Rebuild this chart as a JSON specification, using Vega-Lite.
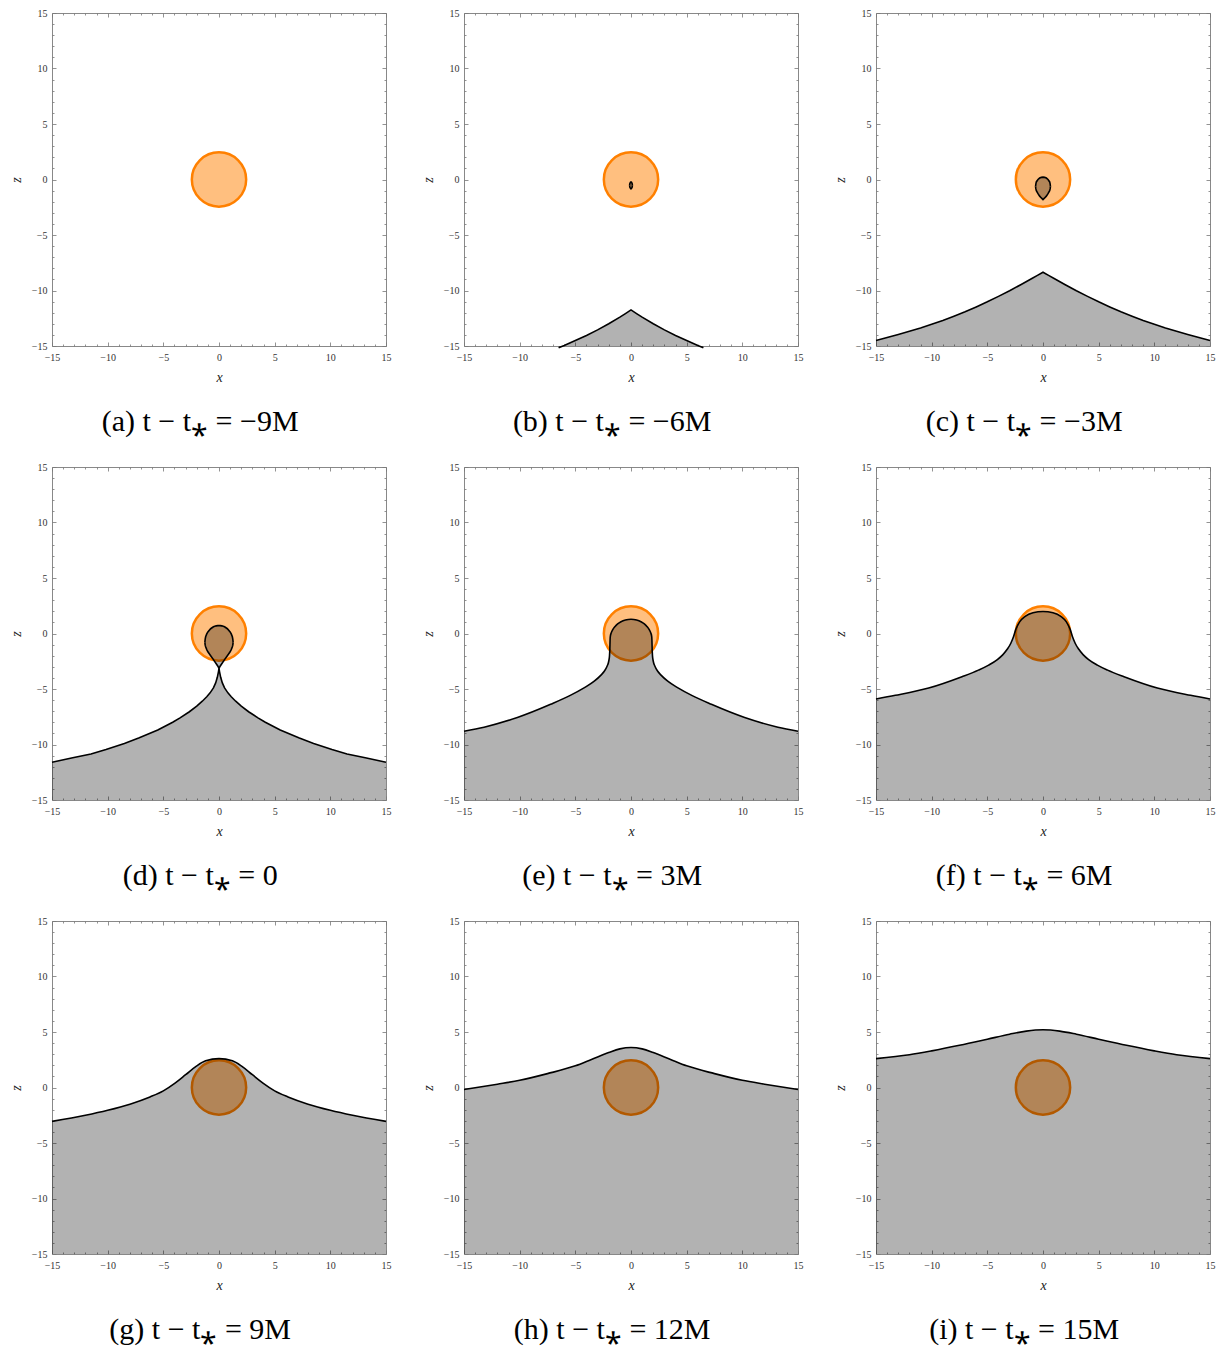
{
"$schema": "https://vega.github.io/schema/vega-lite/v6.json",
"background": "white",
"padding": {"left": 8, "top": 7, "right": 5, "bottom": 5},
"columns": 3,
"spacing": {"row": 121, "column": 78},
"bounds": "flush",
"config": {
  "view": {"stroke": "#888", "strokeWidth": 1},
  "axis": {"domain": false, "grid": false, "tickColor": "#777", "tickWidth": 0.8, "labelFont": "Liberation Serif", "labelFontSize": 10, "labelColor": "#333", "titleFont": "Liberation Serif", "titleFontSize": 14, "titleFontWeight": "normal", "titleFontStyle": "italic", "titleColor": "#222"},
  "title": {"orient": "bottom", "frame": "bounds", "font": "Liberation Serif", "fontSize": 30, "fontWeight": "normal", "offset": 23, "anchor": "middle", "color": "black"},
  "line": {"stroke": "black", "strokeWidth": 1.6, "clip": true},
  "area": {"fill": "black", "fillOpacity": 0.3, "clip": true}
},
"datasets": {
  "disk": [{"p":"a","x":0,"z":0},{"p":"b","x":0,"z":0},{"p":"c","x":0,"z":0},{"p":"d","x":0,"z":0},{"p":"e","x":0,"z":0},{"p":"f","x":0,"z":0},{"p":"g","x":0,"z":0},{"p":"h","x":0,"z":0},{"p":"i","x":0,"z":0}],
  "main": [
    {"p":"b","x":-6.5,"z":-15.15},{"p":"b","x":-6,"z":-14.95},{"p":"b","x":-5,"z":-14.5},{"p":"b","x":-4,"z":-14.05},{"p":"b","x":-3,"z":-13.55},{"p":"b","x":-2,"z":-13.0},{"p":"b","x":-1,"z":-12.4},{"p":"b","x":-0.5,"z":-12.08},{"p":"b","x":0,"z":-11.75},{"p":"b","x":0.5,"z":-12.08},{"p":"b","x":1,"z":-12.4},{"p":"b","x":2,"z":-13.0},{"p":"b","x":3,"z":-13.55},{"p":"b","x":4,"z":-14.05},{"p":"b","x":5,"z":-14.5},{"p":"b","x":6,"z":-14.95},{"p":"b","x":6.5,"z":-15.15},
    {"p":"c","x":-15,"z":-14.5},{"p":"c","x":-14,"z":-14.24},{"p":"c","x":-13,"z":-13.97},{"p":"c","x":-12,"z":-13.68},{"p":"c","x":-11,"z":-13.38},{"p":"c","x":-10,"z":-13.05},{"p":"c","x":-9,"z":-12.7},{"p":"c","x":-8,"z":-12.32},{"p":"c","x":-7,"z":-11.92},{"p":"c","x":-6,"z":-11.48},{"p":"c","x":-5,"z":-11.02},{"p":"c","x":-4,"z":-10.53},{"p":"c","x":-3,"z":-10.02},{"p":"c","x":-2,"z":-9.48},{"p":"c","x":-1,"z":-8.92},{"p":"c","x":-0.5,"z":-8.64},{"p":"c","x":0,"z":-8.35},{"p":"c","x":0.5,"z":-8.64},{"p":"c","x":1,"z":-8.92},{"p":"c","x":2,"z":-9.48},{"p":"c","x":3,"z":-10.02},{"p":"c","x":4,"z":-10.53},{"p":"c","x":5,"z":-11.02},{"p":"c","x":6,"z":-11.48},{"p":"c","x":7,"z":-11.92},{"p":"c","x":8,"z":-12.32},{"p":"c","x":9,"z":-12.7},{"p":"c","x":10,"z":-13.05},{"p":"c","x":11,"z":-13.38},{"p":"c","x":12,"z":-13.68},{"p":"c","x":13,"z":-13.97},{"p":"c","x":14,"z":-14.24},{"p":"c","x":15,"z":-14.5},
    {"p":"d","x":-15,"z":-11.6},{"p":"d","x":-13.14,"z":-11.2},{"p":"d","x":-11.5,"z":-10.85},{"p":"d","x":-10.15,"z":-10.45},{"p":"d","x":-8.5,"z":-9.9},{"p":"d","x":-7.16,"z":-9.4},{"p":"d","x":-5.5,"z":-8.7},{"p":"d","x":-4.16,"z":-8.0},{"p":"d","x":-3.5,"z":-7.6},{"p":"d","x":-2.66,"z":-7.05},{"p":"d","x":-2,"z":-6.55},{"p":"d","x":-1.5,"z":-6.1},{"p":"d","x":-1.1,"z":-5.7},{"p":"d","x":-0.8,"z":-5.35},{"p":"d","x":-0.5,"z":-4.9},{"p":"d","x":-0.3,"z":-4.45},{"p":"d","x":-0.15,"z":-3.95},{"p":"d","x":-0.05,"z":-3.45},{"p":"d","x":0,"z":-3.15},{"p":"d","x":0.05,"z":-3.45},{"p":"d","x":0.15,"z":-3.95},{"p":"d","x":0.3,"z":-4.45},{"p":"d","x":0.5,"z":-4.9},{"p":"d","x":0.8,"z":-5.35},{"p":"d","x":1.1,"z":-5.7},{"p":"d","x":1.5,"z":-6.1},{"p":"d","x":2,"z":-6.55},{"p":"d","x":2.66,"z":-7.05},{"p":"d","x":3.5,"z":-7.6},{"p":"d","x":4.16,"z":-8.0},{"p":"d","x":5.5,"z":-8.7},{"p":"d","x":7.16,"z":-9.4},{"p":"d","x":8.5,"z":-9.9},{"p":"d","x":10.15,"z":-10.45},{"p":"d","x":11.5,"z":-10.85},{"p":"d","x":13.14,"z":-11.2},{"p":"d","x":15,"z":-11.6},
    {"p":"e","x":-15,"z":-8.8},{"p":"e","x":-13.2,"z":-8.44},{"p":"e","x":-10.21,"z":-7.57},{"p":"e","x":-7.22,"z":-6.38},{"p":"e","x":-5.5,"z":-5.6},{"p":"e","x":-4.22,"z":-4.9},{"p":"e","x":-3.3,"z":-4.3},{"p":"e","x":-2.7,"z":-3.75},{"p":"e","x":-2.4,"z":-3.4},{"p":"e","x":-2.15,"z":-2.95},{"p":"e","x":-2.0,"z":-2.5},{"p":"e","x":-1.93,"z":-2.0},{"p":"e","x":-1.9,"z":-1.4},{"p":"e","x":-1.88,"z":-0.6},{"p":"e","x":-1.85,"z":-0.21},{"p":"e","x":-1.78,"z":0.04},{"p":"e","x":-1.65,"z":0.32},{"p":"e","x":-1.45,"z":0.61},{"p":"e","x":-1.2,"z":0.86},{"p":"e","x":-0.9,"z":1.06},{"p":"e","x":-0.5,"z":1.22},{"p":"e","x":0,"z":1.29},{"p":"e","x":0.5,"z":1.22},{"p":"e","x":0.9,"z":1.06},{"p":"e","x":1.2,"z":0.86},{"p":"e","x":1.45,"z":0.61},{"p":"e","x":1.65,"z":0.32},{"p":"e","x":1.78,"z":0.04},{"p":"e","x":1.85,"z":-0.21},{"p":"e","x":1.88,"z":-0.6},{"p":"e","x":1.9,"z":-1.4},{"p":"e","x":1.93,"z":-2.0},{"p":"e","x":2.0,"z":-2.5},{"p":"e","x":2.15,"z":-2.95},{"p":"e","x":2.4,"z":-3.4},{"p":"e","x":2.7,"z":-3.75},{"p":"e","x":3.3,"z":-4.3},{"p":"e","x":4.22,"z":-4.9},{"p":"e","x":5.5,"z":-5.6},{"p":"e","x":7.22,"z":-6.38},{"p":"e","x":10.21,"z":-7.57},{"p":"e","x":13.2,"z":-8.44},{"p":"e","x":15,"z":-8.8},
    {"p":"f","x":-15,"z":-5.9},{"p":"f","x":-13.26,"z":-5.57},{"p":"f","x":-10.27,"z":-4.91},{"p":"f","x":-7.28,"z":-3.89},{"p":"f","x":-5.8,"z":-3.3},{"p":"f","x":-4.88,"z":-2.85},{"p":"f","x":-4.1,"z":-2.35},{"p":"f","x":-3.6,"z":-1.9},{"p":"f","x":-3.2,"z":-1.4},{"p":"f","x":-2.9,"z":-0.9},{"p":"f","x":-2.65,"z":-0.3},{"p":"f","x":-2.45,"z":0.35},{"p":"f","x":-2.1,"z":1.05},{"p":"f","x":-1.6,"z":1.55},{"p":"f","x":-0.9,"z":1.87},{"p":"f","x":0,"z":1.98},{"p":"f","x":0.9,"z":1.87},{"p":"f","x":1.6,"z":1.55},{"p":"f","x":2.1,"z":1.05},{"p":"f","x":2.45,"z":0.35},{"p":"f","x":2.65,"z":-0.3},{"p":"f","x":2.9,"z":-0.9},{"p":"f","x":3.2,"z":-1.4},{"p":"f","x":3.6,"z":-1.9},{"p":"f","x":4.1,"z":-2.35},{"p":"f","x":4.88,"z":-2.85},{"p":"f","x":5.8,"z":-3.3},{"p":"f","x":7.28,"z":-3.89},{"p":"f","x":10.27,"z":-4.91},{"p":"f","x":13.26,"z":-5.57},{"p":"f","x":15,"z":-5.9},
    {"p":"g","x":-15,"z":-3.05},{"p":"g","x":-12,"z":-2.5},{"p":"g","x":-10,"z":-2.05},{"p":"g","x":-8,"z":-1.5},{"p":"g","x":-6.2,"z":-0.85},{"p":"g","x":-5,"z":-0.3},{"p":"g","x":-3.95,"z":0.4},{"p":"g","x":-3,"z":1.15},{"p":"g","x":-2,"z":1.95},{"p":"g","x":-1.2,"z":2.4},{"p":"g","x":0,"z":2.6},{"p":"g","x":1.2,"z":2.4},{"p":"g","x":2,"z":1.95},{"p":"g","x":3,"z":1.15},{"p":"g","x":3.95,"z":0.4},{"p":"g","x":5,"z":-0.3},{"p":"g","x":6.2,"z":-0.85},{"p":"g","x":8,"z":-1.5},{"p":"g","x":10,"z":-2.05},{"p":"g","x":12,"z":-2.5},{"p":"g","x":15,"z":-3.05},
    {"p":"h","x":-15,"z":-0.18},{"p":"h","x":-12,"z":0.3},{"p":"h","x":-10,"z":0.65},{"p":"h","x":-7.5,"z":1.25},{"p":"h","x":-5,"z":1.95},{"p":"h","x":-3.5,"z":2.55},{"p":"h","x":-2,"z":3.15},{"p":"h","x":-1,"z":3.48},{"p":"h","x":0,"z":3.6},{"p":"h","x":1,"z":3.48},{"p":"h","x":2,"z":3.15},{"p":"h","x":3.5,"z":2.55},{"p":"h","x":5,"z":1.95},{"p":"h","x":7.5,"z":1.25},{"p":"h","x":10,"z":0.65},{"p":"h","x":12,"z":0.3},{"p":"h","x":15,"z":-0.18},
    {"p":"i","x":-15,"z":2.6},{"p":"i","x":-12,"z":2.95},{"p":"i","x":-10,"z":3.3},{"p":"i","x":-7.5,"z":3.8},{"p":"i","x":-5,"z":4.35},{"p":"i","x":-3,"z":4.8},{"p":"i","x":-1.5,"z":5.08},{"p":"i","x":0,"z":5.2},{"p":"i","x":1.5,"z":5.08},{"p":"i","x":3,"z":4.8},{"p":"i","x":5,"z":4.35},{"p":"i","x":7.5,"z":3.8},{"p":"i","x":10,"z":3.3},{"p":"i","x":12,"z":2.95},{"p":"i","x":15,"z":2.6}
  ],
  "blob": [
    {"p":"b","x":-0.13,"zt":-0.52,"zb":-0.52},{"p":"b","x":-0.1,"zt":-0.35,"zb":-0.7},{"p":"b","x":-0.05,"zt":-0.25,"zb":-0.8},{"p":"b","x":0,"zt":-0.22,"zb":-0.85},{"p":"b","x":0.05,"zt":-0.25,"zb":-0.8},{"p":"b","x":0.1,"zt":-0.35,"zb":-0.7},{"p":"b","x":0.13,"zt":-0.52,"zb":-0.52},
    {"p":"c","x":-0.67,"zt":-0.63,"zb":-0.63},{"p":"c","x":-0.64,"zt":-0.4,"zb":-0.85},{"p":"c","x":-0.6,"zt":-0.22,"zb":-1.0},{"p":"c","x":-0.45,"zt":0.0,"zb":-1.28},{"p":"c","x":-0.3,"zt":0.13,"zb":-1.5},{"p":"c","x":-0.15,"zt":0.19,"zb":-1.66},{"p":"c","x":0,"zt":0.21,"zb":-1.81},{"p":"c","x":0.15,"zt":0.19,"zb":-1.66},{"p":"c","x":0.3,"zt":0.13,"zb":-1.5},{"p":"c","x":0.45,"zt":0.0,"zb":-1.28},{"p":"c","x":0.6,"zt":-0.22,"zb":-1.0},{"p":"c","x":0.64,"zt":-0.4,"zb":-0.85},{"p":"c","x":0.67,"zt":-0.63,"zb":-0.63},
    {"p":"d","x":-1.27,"zt":-0.8,"zb":-0.8},{"p":"d","x":-1.24,"zt":-0.5,"zb":-1.05},{"p":"d","x":-1.2,"zt":-0.3,"zb":-1.2},{"p":"d","x":-1.1,"zt":-0.04,"zb":-1.45},{"p":"d","x":-1.0,"zt":0.14,"zb":-1.65},{"p":"d","x":-0.75,"zt":0.43,"zb":-2.0},{"p":"d","x":-0.5,"zt":0.6,"zb":-2.35},{"p":"d","x":-0.25,"zt":0.69,"zb":-2.72},{"p":"d","x":-0.1,"zt":0.71,"zb":-2.95},{"p":"d","x":0,"zt":0.72,"zb":-3.15},{"p":"d","x":0.1,"zt":0.71,"zb":-2.95},{"p":"d","x":0.25,"zt":0.69,"zb":-2.72},{"p":"d","x":0.5,"zt":0.6,"zb":-2.35},{"p":"d","x":0.75,"zt":0.43,"zb":-2.0},{"p":"d","x":1.0,"zt":0.14,"zb":-1.65},{"p":"d","x":1.1,"zt":-0.04,"zb":-1.45},{"p":"d","x":1.2,"zt":-0.3,"zb":-1.2},{"p":"d","x":1.24,"zt":-0.5,"zb":-1.05},{"p":"d","x":1.27,"zt":-0.8,"zb":-0.8}
  ]
},
"concat": [
  {"title": "(a) t − t⁎ = −9M", "width": 334, "height": 333, "resolve": {"axis": {"x": "independent", "y": "independent"}}, "layer": [
    {"data": {"name": "disk"}, "transform": [{"filter": "datum.p == 'a'"}], "mark": {"type": "point", "shape": "circle", "size": 2950, "filled": true, "fill": "#ff8000", "fillOpacity": 0.5, "stroke": "#ff8000", "strokeWidth": 2.5, "opacity": 1},
     "encoding": {"x": {"field": "x", "type": "quantitative", "scale": {"domain": [-15, 15], "nice": false}, "axis": {"orient": "bottom", "values": [-15,-10,-5,0,5,10,15], "tickSize": -4, "labelPadding": 10, "labelFlush": false, "title": "x", "titlePadding": 8}},
                  "y": {"field": "z", "type": "quantitative", "scale": {"domain": [-15, 15], "nice": false}, "axis": {"orient": "left", "values": [-15,-10,-5,0,5,10,15], "tickSize": -4, "labelPadding": 9, "labelFlush": false, "title": "z", "titlePadding": 8}}}},
    {"data": {"name": "main"}, "transform": [{"filter": "datum.p == 'a'"}], "mark": {"type": "area"},
     "encoding": {"x": {"field": "x", "type": "quantitative", "scale": {"domain": [-15, 15], "nice": false}, "axis": {"orient": "top", "values": [-15,-10,-5,0,5,10,15], "tickSize": -4, "labels": false, "title": null}},
                  "y": {"field": "z", "type": "quantitative", "scale": {"domain": [-15, 15], "nice": false}, "axis": {"orient": "right", "values": [-15,-10,-5,0,5,10,15], "tickSize": -4, "labels": false, "title": null}},
                  "y2": {"datum": -15}}},
    {"data": {"name": "main"}, "transform": [{"filter": "datum.p == 'a'"}], "mark": {"type": "line"},
     "encoding": {"x": {"field": "x", "type": "quantitative", "scale": {"domain": [-15, 15], "nice": false}, "axis": {"orient": "bottom", "values": [-14,-13,-12,-11,-9,-8,-7,-6,-4,-3,-2,-1,1,2,3,4,6,7,8,9,11,12,13,14], "tickSize": -2, "labels": false, "title": null}},
                  "y": {"field": "z", "type": "quantitative", "scale": {"domain": [-15, 15], "nice": false}, "axis": {"orient": "left", "values": [-14,-13,-12,-11,-9,-8,-7,-6,-4,-3,-2,-1,1,2,3,4,6,7,8,9,11,12,13,14], "tickSize": -2, "labels": false, "title": null}}}},
    {"data": {"name": "blob"}, "transform": [{"filter": "datum.p == 'a'"}], "mark": {"type": "area"},
     "encoding": {"x": {"field": "x", "type": "quantitative", "scale": {"domain": [-15, 15], "nice": false}, "axis": {"orient": "top", "values": [-14,-13,-12,-11,-9,-8,-7,-6,-4,-3,-2,-1,1,2,3,4,6,7,8,9,11,12,13,14], "tickSize": -2, "labels": false, "title": null}},
                  "y": {"field": "zt", "type": "quantitative", "scale": {"domain": [-15, 15], "nice": false}, "axis": {"orient": "right", "values": [-14,-13,-12,-11,-9,-8,-7,-6,-4,-3,-2,-1,1,2,3,4,6,7,8,9,11,12,13,14], "tickSize": -2, "labels": false, "title": null}},
                  "y2": {"field": "zb"}}}
  ]},
  {"title": "(b) t − t⁎ = −6M", "width": 334, "height": 333, "resolve": {"axis": {"x": "independent", "y": "independent"}}, "layer": [
    {"data": {"name": "disk"}, "transform": [{"filter": "datum.p == 'b'"}], "mark": {"type": "point", "shape": "circle", "size": 2950, "filled": true, "fill": "#ff8000", "fillOpacity": 0.5, "stroke": "#ff8000", "strokeWidth": 2.5, "opacity": 1},
     "encoding": {"x": {"field": "x", "type": "quantitative", "scale": {"domain": [-15, 15], "nice": false}, "axis": {"orient": "bottom", "values": [-15,-10,-5,0,5,10,15], "tickSize": -4, "labelPadding": 10, "labelFlush": false, "title": "x", "titlePadding": 8}},
                  "y": {"field": "z", "type": "quantitative", "scale": {"domain": [-15, 15], "nice": false}, "axis": {"orient": "left", "values": [-15,-10,-5,0,5,10,15], "tickSize": -4, "labelPadding": 9, "labelFlush": false, "title": "z", "titlePadding": 8}}}},
    {"data": {"name": "main"}, "transform": [{"filter": "datum.p == 'b'"}], "mark": {"type": "area"},
     "encoding": {"x": {"field": "x", "type": "quantitative", "scale": {"domain": [-15, 15], "nice": false}, "axis": {"orient": "top", "values": [-15,-10,-5,0,5,10,15], "tickSize": -4, "labels": false, "title": null}},
                  "y": {"field": "z", "type": "quantitative", "scale": {"domain": [-15, 15], "nice": false}, "axis": {"orient": "right", "values": [-15,-10,-5,0,5,10,15], "tickSize": -4, "labels": false, "title": null}},
                  "y2": {"datum": -15}}},
    {"data": {"name": "main"}, "transform": [{"filter": "datum.p == 'b'"}], "mark": {"type": "line"},
     "encoding": {"x": {"field": "x", "type": "quantitative", "scale": {"domain": [-15, 15], "nice": false}, "axis": {"orient": "bottom", "values": [-14,-13,-12,-11,-9,-8,-7,-6,-4,-3,-2,-1,1,2,3,4,6,7,8,9,11,12,13,14], "tickSize": -2, "labels": false, "title": null}},
                  "y": {"field": "z", "type": "quantitative", "scale": {"domain": [-15, 15], "nice": false}, "axis": {"orient": "left", "values": [-14,-13,-12,-11,-9,-8,-7,-6,-4,-3,-2,-1,1,2,3,4,6,7,8,9,11,12,13,14], "tickSize": -2, "labels": false, "title": null}}}},
    {"data": {"name": "blob"}, "transform": [{"filter": "datum.p == 'b'"}], "mark": {"type": "area"},
     "encoding": {"x": {"field": "x", "type": "quantitative", "scale": {"domain": [-15, 15], "nice": false}, "axis": {"orient": "top", "values": [-14,-13,-12,-11,-9,-8,-7,-6,-4,-3,-2,-1,1,2,3,4,6,7,8,9,11,12,13,14], "tickSize": -2, "labels": false, "title": null}},
                  "y": {"field": "zt", "type": "quantitative", "scale": {"domain": [-15, 15], "nice": false}, "axis": {"orient": "right", "values": [-14,-13,-12,-11,-9,-8,-7,-6,-4,-3,-2,-1,1,2,3,4,6,7,8,9,11,12,13,14], "tickSize": -2, "labels": false, "title": null}},
                  "y2": {"field": "zb"}}},
    {"data": {"name": "blob"}, "transform": [{"filter": "datum.p == 'b'"}], "mark": {"type": "line"},
     "encoding": {"x": {"field": "x", "type": "quantitative", "scale": {"domain": [-15, 15], "nice": false}, "axis": null},
                  "y": {"field": "zt", "type": "quantitative", "scale": {"domain": [-15, 15], "nice": false}, "axis": null}}},
    {"data": {"name": "blob"}, "transform": [{"filter": "datum.p == 'b'"}], "mark": {"type": "line"},
     "encoding": {"x": {"field": "x", "type": "quantitative", "scale": {"domain": [-15, 15], "nice": false}, "axis": null},
                  "y": {"field": "zb", "type": "quantitative", "scale": {"domain": [-15, 15], "nice": false}, "axis": null}}}
  ]},
  {"title": "(c) t − t⁎ = −3M", "width": 334, "height": 333, "resolve": {"axis": {"x": "independent", "y": "independent"}}, "layer": [
    {"data": {"name": "disk"}, "transform": [{"filter": "datum.p == 'c'"}], "mark": {"type": "point", "shape": "circle", "size": 2950, "filled": true, "fill": "#ff8000", "fillOpacity": 0.5, "stroke": "#ff8000", "strokeWidth": 2.5, "opacity": 1},
     "encoding": {"x": {"field": "x", "type": "quantitative", "scale": {"domain": [-15, 15], "nice": false}, "axis": {"orient": "bottom", "values": [-15,-10,-5,0,5,10,15], "tickSize": -4, "labelPadding": 10, "labelFlush": false, "title": "x", "titlePadding": 8}},
                  "y": {"field": "z", "type": "quantitative", "scale": {"domain": [-15, 15], "nice": false}, "axis": {"orient": "left", "values": [-15,-10,-5,0,5,10,15], "tickSize": -4, "labelPadding": 9, "labelFlush": false, "title": "z", "titlePadding": 8}}}},
    {"data": {"name": "main"}, "transform": [{"filter": "datum.p == 'c'"}], "mark": {"type": "area"},
     "encoding": {"x": {"field": "x", "type": "quantitative", "scale": {"domain": [-15, 15], "nice": false}, "axis": {"orient": "top", "values": [-15,-10,-5,0,5,10,15], "tickSize": -4, "labels": false, "title": null}},
                  "y": {"field": "z", "type": "quantitative", "scale": {"domain": [-15, 15], "nice": false}, "axis": {"orient": "right", "values": [-15,-10,-5,0,5,10,15], "tickSize": -4, "labels": false, "title": null}},
                  "y2": {"datum": -15}}},
    {"data": {"name": "main"}, "transform": [{"filter": "datum.p == 'c'"}], "mark": {"type": "line"},
     "encoding": {"x": {"field": "x", "type": "quantitative", "scale": {"domain": [-15, 15], "nice": false}, "axis": {"orient": "bottom", "values": [-14,-13,-12,-11,-9,-8,-7,-6,-4,-3,-2,-1,1,2,3,4,6,7,8,9,11,12,13,14], "tickSize": -2, "labels": false, "title": null}},
                  "y": {"field": "z", "type": "quantitative", "scale": {"domain": [-15, 15], "nice": false}, "axis": {"orient": "left", "values": [-14,-13,-12,-11,-9,-8,-7,-6,-4,-3,-2,-1,1,2,3,4,6,7,8,9,11,12,13,14], "tickSize": -2, "labels": false, "title": null}}}},
    {"data": {"name": "blob"}, "transform": [{"filter": "datum.p == 'c'"}], "mark": {"type": "area"},
     "encoding": {"x": {"field": "x", "type": "quantitative", "scale": {"domain": [-15, 15], "nice": false}, "axis": {"orient": "top", "values": [-14,-13,-12,-11,-9,-8,-7,-6,-4,-3,-2,-1,1,2,3,4,6,7,8,9,11,12,13,14], "tickSize": -2, "labels": false, "title": null}},
                  "y": {"field": "zt", "type": "quantitative", "scale": {"domain": [-15, 15], "nice": false}, "axis": {"orient": "right", "values": [-14,-13,-12,-11,-9,-8,-7,-6,-4,-3,-2,-1,1,2,3,4,6,7,8,9,11,12,13,14], "tickSize": -2, "labels": false, "title": null}},
                  "y2": {"field": "zb"}}},
    {"data": {"name": "blob"}, "transform": [{"filter": "datum.p == 'c'"}], "mark": {"type": "line"},
     "encoding": {"x": {"field": "x", "type": "quantitative", "scale": {"domain": [-15, 15], "nice": false}, "axis": null},
                  "y": {"field": "zt", "type": "quantitative", "scale": {"domain": [-15, 15], "nice": false}, "axis": null}}},
    {"data": {"name": "blob"}, "transform": [{"filter": "datum.p == 'c'"}], "mark": {"type": "line"},
     "encoding": {"x": {"field": "x", "type": "quantitative", "scale": {"domain": [-15, 15], "nice": false}, "axis": null},
                  "y": {"field": "zb", "type": "quantitative", "scale": {"domain": [-15, 15], "nice": false}, "axis": null}}}
  ]},
  {"title": "(d) t − t⁎ = 0", "width": 334, "height": 333, "resolve": {"axis": {"x": "independent", "y": "independent"}}, "layer": [
    {"data": {"name": "disk"}, "transform": [{"filter": "datum.p == 'd'"}], "mark": {"type": "point", "shape": "circle", "size": 2950, "filled": true, "fill": "#ff8000", "fillOpacity": 0.5, "stroke": "#ff8000", "strokeWidth": 2.5, "opacity": 1},
     "encoding": {"x": {"field": "x", "type": "quantitative", "scale": {"domain": [-15, 15], "nice": false}, "axis": {"orient": "bottom", "values": [-15,-10,-5,0,5,10,15], "tickSize": -4, "labelPadding": 10, "labelFlush": false, "title": "x", "titlePadding": 8}},
                  "y": {"field": "z", "type": "quantitative", "scale": {"domain": [-15, 15], "nice": false}, "axis": {"orient": "left", "values": [-15,-10,-5,0,5,10,15], "tickSize": -4, "labelPadding": 9, "labelFlush": false, "title": "z", "titlePadding": 8}}}},
    {"data": {"name": "main"}, "transform": [{"filter": "datum.p == 'd'"}], "mark": {"type": "area"},
     "encoding": {"x": {"field": "x", "type": "quantitative", "scale": {"domain": [-15, 15], "nice": false}, "axis": {"orient": "top", "values": [-15,-10,-5,0,5,10,15], "tickSize": -4, "labels": false, "title": null}},
                  "y": {"field": "z", "type": "quantitative", "scale": {"domain": [-15, 15], "nice": false}, "axis": {"orient": "right", "values": [-15,-10,-5,0,5,10,15], "tickSize": -4, "labels": false, "title": null}},
                  "y2": {"datum": -15}}},
    {"data": {"name": "main"}, "transform": [{"filter": "datum.p == 'd'"}], "mark": {"type": "line"},
     "encoding": {"x": {"field": "x", "type": "quantitative", "scale": {"domain": [-15, 15], "nice": false}, "axis": {"orient": "bottom", "values": [-14,-13,-12,-11,-9,-8,-7,-6,-4,-3,-2,-1,1,2,3,4,6,7,8,9,11,12,13,14], "tickSize": -2, "labels": false, "title": null}},
                  "y": {"field": "z", "type": "quantitative", "scale": {"domain": [-15, 15], "nice": false}, "axis": {"orient": "left", "values": [-14,-13,-12,-11,-9,-8,-7,-6,-4,-3,-2,-1,1,2,3,4,6,7,8,9,11,12,13,14], "tickSize": -2, "labels": false, "title": null}}}},
    {"data": {"name": "blob"}, "transform": [{"filter": "datum.p == 'd'"}], "mark": {"type": "area"},
     "encoding": {"x": {"field": "x", "type": "quantitative", "scale": {"domain": [-15, 15], "nice": false}, "axis": {"orient": "top", "values": [-14,-13,-12,-11,-9,-8,-7,-6,-4,-3,-2,-1,1,2,3,4,6,7,8,9,11,12,13,14], "tickSize": -2, "labels": false, "title": null}},
                  "y": {"field": "zt", "type": "quantitative", "scale": {"domain": [-15, 15], "nice": false}, "axis": {"orient": "right", "values": [-14,-13,-12,-11,-9,-8,-7,-6,-4,-3,-2,-1,1,2,3,4,6,7,8,9,11,12,13,14], "tickSize": -2, "labels": false, "title": null}},
                  "y2": {"field": "zb"}}},
    {"data": {"name": "blob"}, "transform": [{"filter": "datum.p == 'd'"}], "mark": {"type": "line"},
     "encoding": {"x": {"field": "x", "type": "quantitative", "scale": {"domain": [-15, 15], "nice": false}, "axis": null},
                  "y": {"field": "zt", "type": "quantitative", "scale": {"domain": [-15, 15], "nice": false}, "axis": null}}},
    {"data": {"name": "blob"}, "transform": [{"filter": "datum.p == 'd'"}], "mark": {"type": "line"},
     "encoding": {"x": {"field": "x", "type": "quantitative", "scale": {"domain": [-15, 15], "nice": false}, "axis": null},
                  "y": {"field": "zb", "type": "quantitative", "scale": {"domain": [-15, 15], "nice": false}, "axis": null}}}
  ]},
  {"title": "(e) t − t⁎ = 3M", "width": 334, "height": 333, "resolve": {"axis": {"x": "independent", "y": "independent"}}, "layer": [
    {"data": {"name": "disk"}, "transform": [{"filter": "datum.p == 'e'"}], "mark": {"type": "point", "shape": "circle", "size": 2950, "filled": true, "fill": "#ff8000", "fillOpacity": 0.5, "stroke": "#ff8000", "strokeWidth": 2.5, "opacity": 1},
     "encoding": {"x": {"field": "x", "type": "quantitative", "scale": {"domain": [-15, 15], "nice": false}, "axis": {"orient": "bottom", "values": [-15,-10,-5,0,5,10,15], "tickSize": -4, "labelPadding": 10, "labelFlush": false, "title": "x", "titlePadding": 8}},
                  "y": {"field": "z", "type": "quantitative", "scale": {"domain": [-15, 15], "nice": false}, "axis": {"orient": "left", "values": [-15,-10,-5,0,5,10,15], "tickSize": -4, "labelPadding": 9, "labelFlush": false, "title": "z", "titlePadding": 8}}}},
    {"data": {"name": "main"}, "transform": [{"filter": "datum.p == 'e'"}], "mark": {"type": "area", "interpolate": "monotone"},
     "encoding": {"x": {"field": "x", "type": "quantitative", "scale": {"domain": [-15, 15], "nice": false}, "axis": {"orient": "top", "values": [-15,-10,-5,0,5,10,15], "tickSize": -4, "labels": false, "title": null}},
                  "y": {"field": "z", "type": "quantitative", "scale": {"domain": [-15, 15], "nice": false}, "axis": {"orient": "right", "values": [-15,-10,-5,0,5,10,15], "tickSize": -4, "labels": false, "title": null}},
                  "y2": {"datum": -15}}},
    {"data": {"name": "main"}, "transform": [{"filter": "datum.p == 'e'"}], "mark": {"type": "line", "interpolate": "monotone"},
     "encoding": {"x": {"field": "x", "type": "quantitative", "scale": {"domain": [-15, 15], "nice": false}, "axis": {"orient": "bottom", "values": [-14,-13,-12,-11,-9,-8,-7,-6,-4,-3,-2,-1,1,2,3,4,6,7,8,9,11,12,13,14], "tickSize": -2, "labels": false, "title": null}},
                  "y": {"field": "z", "type": "quantitative", "scale": {"domain": [-15, 15], "nice": false}, "axis": {"orient": "left", "values": [-14,-13,-12,-11,-9,-8,-7,-6,-4,-3,-2,-1,1,2,3,4,6,7,8,9,11,12,13,14], "tickSize": -2, "labels": false, "title": null}}}},
    {"data": {"name": "blob"}, "transform": [{"filter": "datum.p == 'e'"}], "mark": {"type": "area"},
     "encoding": {"x": {"field": "x", "type": "quantitative", "scale": {"domain": [-15, 15], "nice": false}, "axis": {"orient": "top", "values": [-14,-13,-12,-11,-9,-8,-7,-6,-4,-3,-2,-1,1,2,3,4,6,7,8,9,11,12,13,14], "tickSize": -2, "labels": false, "title": null}},
                  "y": {"field": "zt", "type": "quantitative", "scale": {"domain": [-15, 15], "nice": false}, "axis": {"orient": "right", "values": [-14,-13,-12,-11,-9,-8,-7,-6,-4,-3,-2,-1,1,2,3,4,6,7,8,9,11,12,13,14], "tickSize": -2, "labels": false, "title": null}},
                  "y2": {"field": "zb"}}}
  ]},
  {"title": "(f) t − t⁎ = 6M", "width": 334, "height": 333, "resolve": {"axis": {"x": "independent", "y": "independent"}}, "layer": [
    {"data": {"name": "disk"}, "transform": [{"filter": "datum.p == 'f'"}], "mark": {"type": "point", "shape": "circle", "size": 2950, "filled": true, "fill": "#ff8000", "fillOpacity": 0.5, "stroke": "#ff8000", "strokeWidth": 2.5, "opacity": 1},
     "encoding": {"x": {"field": "x", "type": "quantitative", "scale": {"domain": [-15, 15], "nice": false}, "axis": {"orient": "bottom", "values": [-15,-10,-5,0,5,10,15], "tickSize": -4, "labelPadding": 10, "labelFlush": false, "title": "x", "titlePadding": 8}},
                  "y": {"field": "z", "type": "quantitative", "scale": {"domain": [-15, 15], "nice": false}, "axis": {"orient": "left", "values": [-15,-10,-5,0,5,10,15], "tickSize": -4, "labelPadding": 9, "labelFlush": false, "title": "z", "titlePadding": 8}}}},
    {"data": {"name": "main"}, "transform": [{"filter": "datum.p == 'f'"}], "mark": {"type": "area", "interpolate": "monotone"},
     "encoding": {"x": {"field": "x", "type": "quantitative", "scale": {"domain": [-15, 15], "nice": false}, "axis": {"orient": "top", "values": [-15,-10,-5,0,5,10,15], "tickSize": -4, "labels": false, "title": null}},
                  "y": {"field": "z", "type": "quantitative", "scale": {"domain": [-15, 15], "nice": false}, "axis": {"orient": "right", "values": [-15,-10,-5,0,5,10,15], "tickSize": -4, "labels": false, "title": null}},
                  "y2": {"datum": -15}}},
    {"data": {"name": "main"}, "transform": [{"filter": "datum.p == 'f'"}], "mark": {"type": "line", "interpolate": "monotone"},
     "encoding": {"x": {"field": "x", "type": "quantitative", "scale": {"domain": [-15, 15], "nice": false}, "axis": {"orient": "bottom", "values": [-14,-13,-12,-11,-9,-8,-7,-6,-4,-3,-2,-1,1,2,3,4,6,7,8,9,11,12,13,14], "tickSize": -2, "labels": false, "title": null}},
                  "y": {"field": "z", "type": "quantitative", "scale": {"domain": [-15, 15], "nice": false}, "axis": {"orient": "left", "values": [-14,-13,-12,-11,-9,-8,-7,-6,-4,-3,-2,-1,1,2,3,4,6,7,8,9,11,12,13,14], "tickSize": -2, "labels": false, "title": null}}}},
    {"data": {"name": "blob"}, "transform": [{"filter": "datum.p == 'f'"}], "mark": {"type": "area"},
     "encoding": {"x": {"field": "x", "type": "quantitative", "scale": {"domain": [-15, 15], "nice": false}, "axis": {"orient": "top", "values": [-14,-13,-12,-11,-9,-8,-7,-6,-4,-3,-2,-1,1,2,3,4,6,7,8,9,11,12,13,14], "tickSize": -2, "labels": false, "title": null}},
                  "y": {"field": "zt", "type": "quantitative", "scale": {"domain": [-15, 15], "nice": false}, "axis": {"orient": "right", "values": [-14,-13,-12,-11,-9,-8,-7,-6,-4,-3,-2,-1,1,2,3,4,6,7,8,9,11,12,13,14], "tickSize": -2, "labels": false, "title": null}},
                  "y2": {"field": "zb"}}}
  ]},
  {"title": "(g) t − t⁎ = 9M", "width": 334, "height": 333, "resolve": {"axis": {"x": "independent", "y": "independent"}}, "layer": [
    {"data": {"name": "disk"}, "transform": [{"filter": "datum.p == 'g'"}], "mark": {"type": "point", "shape": "circle", "size": 2950, "filled": true, "fill": "#ff8000", "fillOpacity": 0.5, "stroke": "#ff8000", "strokeWidth": 2.5, "opacity": 1},
     "encoding": {"x": {"field": "x", "type": "quantitative", "scale": {"domain": [-15, 15], "nice": false}, "axis": {"orient": "bottom", "values": [-15,-10,-5,0,5,10,15], "tickSize": -4, "labelPadding": 10, "labelFlush": false, "title": "x", "titlePadding": 8}},
                  "y": {"field": "z", "type": "quantitative", "scale": {"domain": [-15, 15], "nice": false}, "axis": {"orient": "left", "values": [-15,-10,-5,0,5,10,15], "tickSize": -4, "labelPadding": 9, "labelFlush": false, "title": "z", "titlePadding": 8}}}},
    {"data": {"name": "main"}, "transform": [{"filter": "datum.p == 'g'"}], "mark": {"type": "area", "interpolate": "monotone"},
     "encoding": {"x": {"field": "x", "type": "quantitative", "scale": {"domain": [-15, 15], "nice": false}, "axis": {"orient": "top", "values": [-15,-10,-5,0,5,10,15], "tickSize": -4, "labels": false, "title": null}},
                  "y": {"field": "z", "type": "quantitative", "scale": {"domain": [-15, 15], "nice": false}, "axis": {"orient": "right", "values": [-15,-10,-5,0,5,10,15], "tickSize": -4, "labels": false, "title": null}},
                  "y2": {"datum": -15}}},
    {"data": {"name": "main"}, "transform": [{"filter": "datum.p == 'g'"}], "mark": {"type": "line", "interpolate": "monotone"},
     "encoding": {"x": {"field": "x", "type": "quantitative", "scale": {"domain": [-15, 15], "nice": false}, "axis": {"orient": "bottom", "values": [-14,-13,-12,-11,-9,-8,-7,-6,-4,-3,-2,-1,1,2,3,4,6,7,8,9,11,12,13,14], "tickSize": -2, "labels": false, "title": null}},
                  "y": {"field": "z", "type": "quantitative", "scale": {"domain": [-15, 15], "nice": false}, "axis": {"orient": "left", "values": [-14,-13,-12,-11,-9,-8,-7,-6,-4,-3,-2,-1,1,2,3,4,6,7,8,9,11,12,13,14], "tickSize": -2, "labels": false, "title": null}}}},
    {"data": {"name": "blob"}, "transform": [{"filter": "datum.p == 'g'"}], "mark": {"type": "area"},
     "encoding": {"x": {"field": "x", "type": "quantitative", "scale": {"domain": [-15, 15], "nice": false}, "axis": {"orient": "top", "values": [-14,-13,-12,-11,-9,-8,-7,-6,-4,-3,-2,-1,1,2,3,4,6,7,8,9,11,12,13,14], "tickSize": -2, "labels": false, "title": null}},
                  "y": {"field": "zt", "type": "quantitative", "scale": {"domain": [-15, 15], "nice": false}, "axis": {"orient": "right", "values": [-14,-13,-12,-11,-9,-8,-7,-6,-4,-3,-2,-1,1,2,3,4,6,7,8,9,11,12,13,14], "tickSize": -2, "labels": false, "title": null}},
                  "y2": {"field": "zb"}}}
  ]},
  {"title": "(h) t − t⁎ = 12M", "width": 334, "height": 333, "resolve": {"axis": {"x": "independent", "y": "independent"}}, "layer": [
    {"data": {"name": "disk"}, "transform": [{"filter": "datum.p == 'h'"}], "mark": {"type": "point", "shape": "circle", "size": 2950, "filled": true, "fill": "#ff8000", "fillOpacity": 0.5, "stroke": "#ff8000", "strokeWidth": 2.5, "opacity": 1},
     "encoding": {"x": {"field": "x", "type": "quantitative", "scale": {"domain": [-15, 15], "nice": false}, "axis": {"orient": "bottom", "values": [-15,-10,-5,0,5,10,15], "tickSize": -4, "labelPadding": 10, "labelFlush": false, "title": "x", "titlePadding": 8}},
                  "y": {"field": "z", "type": "quantitative", "scale": {"domain": [-15, 15], "nice": false}, "axis": {"orient": "left", "values": [-15,-10,-5,0,5,10,15], "tickSize": -4, "labelPadding": 9, "labelFlush": false, "title": "z", "titlePadding": 8}}}},
    {"data": {"name": "main"}, "transform": [{"filter": "datum.p == 'h'"}], "mark": {"type": "area", "interpolate": "monotone"},
     "encoding": {"x": {"field": "x", "type": "quantitative", "scale": {"domain": [-15, 15], "nice": false}, "axis": {"orient": "top", "values": [-15,-10,-5,0,5,10,15], "tickSize": -4, "labels": false, "title": null}},
                  "y": {"field": "z", "type": "quantitative", "scale": {"domain": [-15, 15], "nice": false}, "axis": {"orient": "right", "values": [-15,-10,-5,0,5,10,15], "tickSize": -4, "labels": false, "title": null}},
                  "y2": {"datum": -15}}},
    {"data": {"name": "main"}, "transform": [{"filter": "datum.p == 'h'"}], "mark": {"type": "line", "interpolate": "monotone"},
     "encoding": {"x": {"field": "x", "type": "quantitative", "scale": {"domain": [-15, 15], "nice": false}, "axis": {"orient": "bottom", "values": [-14,-13,-12,-11,-9,-8,-7,-6,-4,-3,-2,-1,1,2,3,4,6,7,8,9,11,12,13,14], "tickSize": -2, "labels": false, "title": null}},
                  "y": {"field": "z", "type": "quantitative", "scale": {"domain": [-15, 15], "nice": false}, "axis": {"orient": "left", "values": [-14,-13,-12,-11,-9,-8,-7,-6,-4,-3,-2,-1,1,2,3,4,6,7,8,9,11,12,13,14], "tickSize": -2, "labels": false, "title": null}}}},
    {"data": {"name": "blob"}, "transform": [{"filter": "datum.p == 'h'"}], "mark": {"type": "area"},
     "encoding": {"x": {"field": "x", "type": "quantitative", "scale": {"domain": [-15, 15], "nice": false}, "axis": {"orient": "top", "values": [-14,-13,-12,-11,-9,-8,-7,-6,-4,-3,-2,-1,1,2,3,4,6,7,8,9,11,12,13,14], "tickSize": -2, "labels": false, "title": null}},
                  "y": {"field": "zt", "type": "quantitative", "scale": {"domain": [-15, 15], "nice": false}, "axis": {"orient": "right", "values": [-14,-13,-12,-11,-9,-8,-7,-6,-4,-3,-2,-1,1,2,3,4,6,7,8,9,11,12,13,14], "tickSize": -2, "labels": false, "title": null}},
                  "y2": {"field": "zb"}}}
  ]},
  {"title": "(i) t − t⁎ = 15M", "width": 334, "height": 333, "resolve": {"axis": {"x": "independent", "y": "independent"}}, "layer": [
    {"data": {"name": "disk"}, "transform": [{"filter": "datum.p == 'i'"}], "mark": {"type": "point", "shape": "circle", "size": 2950, "filled": true, "fill": "#ff8000", "fillOpacity": 0.5, "stroke": "#ff8000", "strokeWidth": 2.5, "opacity": 1},
     "encoding": {"x": {"field": "x", "type": "quantitative", "scale": {"domain": [-15, 15], "nice": false}, "axis": {"orient": "bottom", "values": [-15,-10,-5,0,5,10,15], "tickSize": -4, "labelPadding": 10, "labelFlush": false, "title": "x", "titlePadding": 8}},
                  "y": {"field": "z", "type": "quantitative", "scale": {"domain": [-15, 15], "nice": false}, "axis": {"orient": "left", "values": [-15,-10,-5,0,5,10,15], "tickSize": -4, "labelPadding": 9, "labelFlush": false, "title": "z", "titlePadding": 8}}}},
    {"data": {"name": "main"}, "transform": [{"filter": "datum.p == 'i'"}], "mark": {"type": "area", "interpolate": "monotone"},
     "encoding": {"x": {"field": "x", "type": "quantitative", "scale": {"domain": [-15, 15], "nice": false}, "axis": {"orient": "top", "values": [-15,-10,-5,0,5,10,15], "tickSize": -4, "labels": false, "title": null}},
                  "y": {"field": "z", "type": "quantitative", "scale": {"domain": [-15, 15], "nice": false}, "axis": {"orient": "right", "values": [-15,-10,-5,0,5,10,15], "tickSize": -4, "labels": false, "title": null}},
                  "y2": {"datum": -15}}},
    {"data": {"name": "main"}, "transform": [{"filter": "datum.p == 'i'"}], "mark": {"type": "line", "interpolate": "monotone"},
     "encoding": {"x": {"field": "x", "type": "quantitative", "scale": {"domain": [-15, 15], "nice": false}, "axis": {"orient": "bottom", "values": [-14,-13,-12,-11,-9,-8,-7,-6,-4,-3,-2,-1,1,2,3,4,6,7,8,9,11,12,13,14], "tickSize": -2, "labels": false, "title": null}},
                  "y": {"field": "z", "type": "quantitative", "scale": {"domain": [-15, 15], "nice": false}, "axis": {"orient": "left", "values": [-14,-13,-12,-11,-9,-8,-7,-6,-4,-3,-2,-1,1,2,3,4,6,7,8,9,11,12,13,14], "tickSize": -2, "labels": false, "title": null}}}},
    {"data": {"name": "blob"}, "transform": [{"filter": "datum.p == 'i'"}], "mark": {"type": "area"},
     "encoding": {"x": {"field": "x", "type": "quantitative", "scale": {"domain": [-15, 15], "nice": false}, "axis": {"orient": "top", "values": [-14,-13,-12,-11,-9,-8,-7,-6,-4,-3,-2,-1,1,2,3,4,6,7,8,9,11,12,13,14], "tickSize": -2, "labels": false, "title": null}},
                  "y": {"field": "zt", "type": "quantitative", "scale": {"domain": [-15, 15], "nice": false}, "axis": {"orient": "right", "values": [-14,-13,-12,-11,-9,-8,-7,-6,-4,-3,-2,-1,1,2,3,4,6,7,8,9,11,12,13,14], "tickSize": -2, "labels": false, "title": null}},
                  "y2": {"field": "zb"}}}
  ]}
]
}
